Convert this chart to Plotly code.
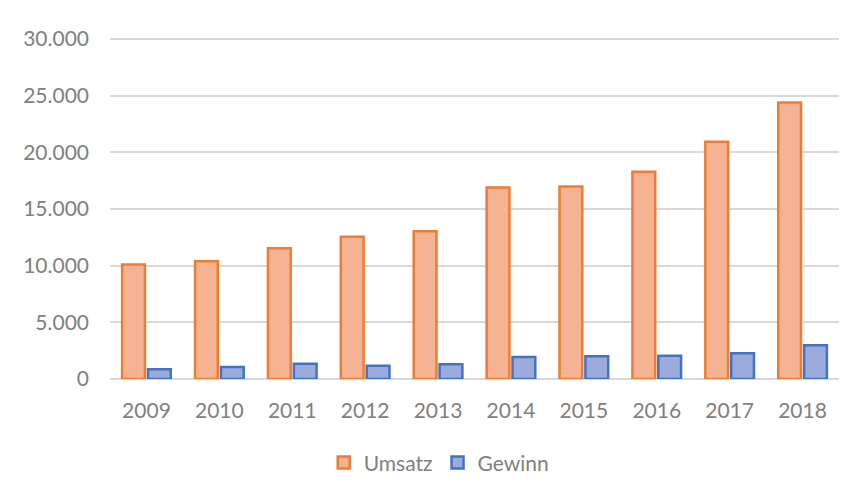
import plotly.graph_objects as go

years = ["2009", "2010", "2011", "2012", "2013", "2014", "2015", "2016", "2017", "2018"]
umsatz = [10100, 10400, 11550, 12550, 13050, 16900, 17000, 18300, 20950, 24400]
gewinn = [860, 1060, 1350, 1180, 1300, 1940, 2000, 2060, 2270, 2970]
y_ticks = [0, 5000, 10000, 15000, 20000, 25000, 30000]
y_tick_labels = ["0", "5.000", "10.000", "15.000", "20.000", "25.000", "30.000"]

font = dict(family="Lato, Carlito, Calibri, sans-serif", size=21, color="#808080")

fig = go.Figure()
fig.add_trace(go.Bar(
    x=years, y=umsatz, name="Umsatz",
    marker=dict(color="#F5B394", line=dict(color="#ED7D31", width=2.5)),
))
fig.add_trace(go.Bar(
    x=years, y=gewinn, name="Gewinn",
    marker=dict(color="#9AABDC", line=dict(color="#4472C4", width=2.5)),
))

fig.update_layout(
    width=858, height=485,
    margin=dict(l=102, r=27, t=30, b=114, autoexpand=False),
    paper_bgcolor="white", plot_bgcolor="white",
    font=font,
    barmode="group", bargap=0.29, bargroupgap=0.12,
    showlegend=True,
    legend=dict(orientation="h", xref="container", yref="container",
                x=0.502, xanchor="center", y=0.062, yanchor="middle",
                font=font, itemwidth=30, traceorder="normal"),
    shapes=[
        dict(type="line", xref="paper", yref="paper", x0=1.034, x1=1.034, y0=-0.4, y1=1.2,
             line=dict(color="#D0D0D0", width=2)),
    ],
)
fig.update_xaxes(showgrid=False, showline=False, ticks="", tickfont=font, ticklabelstandoff=17)
fig.update_yaxes(range=[0, 30100], tickvals=y_ticks, ticktext=y_tick_labels,
                 showgrid=True, gridcolor="#D9D9D9", gridwidth=2,
                 zeroline=True, zerolinecolor="#D9D9D9", zerolinewidth=2,
                 showline=False, ticks="", tickfont=font, ticklabelstandoff=20)

fig.write_html("out.html")
